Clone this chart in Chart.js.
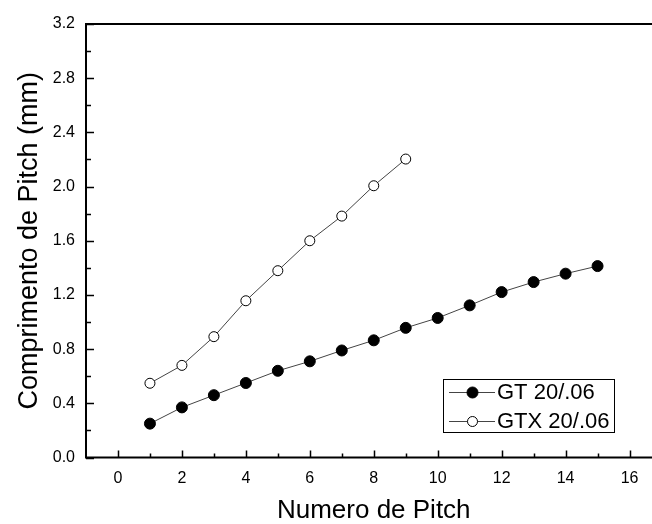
<!DOCTYPE html>
<html><head><meta charset="utf-8">
<script src="https://cdn.jsdelivr.net/npm/chart.js@4/dist/chart.umd.min.js"></script>
<style>html,body{margin:0;padding:0;background:#fff;overflow:hidden}#wrap{width:652px;height:524px;position:relative;overflow:hidden}canvas{display:block}</style>
</head><body><div id="wrap"><canvas id="c" width="668" height="524" style="width:668px;height:524px"></canvas></div>
<script>
// ---- data ----
const pitchGT   = [1, 2, 3, 4, 5, 6, 7, 8, 9, 10, 11, 12, 13, 14, 15];
const valuesGT  = [0.25, 0.37, 0.46, 0.55, 0.64, 0.71, 0.79, 0.865, 0.957, 1.03, 1.123, 1.221, 1.295, 1.357, 1.413];
const pitchGTX  = [1, 2, 3, 4, 5, 6, 7, 8, 9];
const valuesGTX = [0.548, 0.68, 0.892, 1.157, 1.379, 1.6, 1.782, 2.006, 2.203];
const seriesLabels = ['GT 20/.06', 'GTX 20/.06'];
const xAxisTitle = 'Numero de Pitch';
const yAxisTitle = 'Comprimento de Pitch (mm)';
const xRange = [-1, 17];
const yRange = [0, 3.2];
const xTickLabels = [0, 2, 4, 6, 8, 10, 12, 14, 16];
const xMajorStep = 2, xMinorStep = 1;
const yMajorStep = 0.4, yMinorStep = 0.2;

const FONT = "'Liberation Sans', Arial, sans-serif";

const toPoints = (xs, ys) => xs.map((x, i) => ({x: x, y: ys[i]}));

// frame + inward ticks (major / minor) using the scales, and the boxed legend
const framePlugin = {
  id: 'frame',
  afterDraw(chart) {
    const {ctx, chartArea: a, scales} = chart;
    const xs = scales.x, ys = scales.y;
    ctx.save();
    ctx.strokeStyle = '#000';
    ctx.lineWidth = 2;
    ctx.beginPath();
    ctx.moveTo(a.right + 2, a.top); ctx.lineTo(a.left, a.top);
    ctx.lineTo(a.left, a.bottom); ctx.lineTo(a.right + 2, a.bottom);
    ctx.stroke();
    ctx.lineWidth = 1.5;
    ctx.beginPath();
    const eps = 1e-6;
    for (let v = Math.ceil(xs.min / xMinorStep) * xMinorStep; v < xs.max - eps; v += xMinorStep) {
      if (v <= xs.min + eps) continue;
      const px = Math.round(xs.getPixelForValue(v)) + 0.5;
      const major = Math.abs(v / xMajorStep - Math.round(v / xMajorStep)) < eps;
      ctx.moveTo(px, a.bottom); ctx.lineTo(px, a.bottom - (major ? 7 : 4));
    }
    for (let i = 0; ; i++) {
      const v = ys.min + i * yMinorStep;
      if (v > ys.max + eps) break;
      const py = Math.round(ys.getPixelForValue(v)) + 0.5;
      const major = i % Math.round(yMajorStep / yMinorStep) === 0;
      ctx.moveTo(a.left, py); ctx.lineTo(a.left + (major ? 8 : 5), py);
    }
    ctx.stroke();

    // legend
    const lx = 443, ly = 379, lw = 171, lh = 53;
    ctx.lineWidth = 1;
    ctx.strokeStyle = '#000';
    ctx.strokeRect(lx + 0.5, ly + 0.5, lw, lh);
    const rows = [ly + 13, ly + 42];
    chart.data.datasets.forEach((ds, i) => {
      const y = rows[i];
      ctx.strokeStyle = ds.borderColor;
      ctx.lineWidth = 1;
      ctx.beginPath(); ctx.moveTo(lx + 6, y + 0.5); ctx.lineTo(lx + 52, y + 0.5); ctx.stroke();
      ctx.beginPath();
      ctx.arc(lx + 29.5, y + 0.5, ds.pointRadius, 0, Math.PI * 2);
      ctx.fillStyle = ds.pointBackgroundColor; ctx.fill();
      ctx.strokeStyle = ds.pointBorderColor; ctx.lineWidth = ds.pointBorderWidth; ctx.stroke();
      ctx.fillStyle = '#000';
      ctx.font = '22px ' + FONT;
      ctx.textBaseline = 'middle';
      ctx.textAlign = 'left';
      ctx.fillText(ds.label, lx + 54, y + 1);
    });
    ctx.restore();
  }
};

new Chart(document.getElementById('c'), {
  type: 'scatter',
  data: {
    datasets: [
      {
        label: seriesLabels[0],
        data: toPoints(pitchGT, valuesGT),
        showLine: true,
        borderColor: '#444',
        borderWidth: 1,
        pointRadius: 5.5,
        pointBackgroundColor: '#000',
        pointBorderColor: '#000',
        pointBorderWidth: 1
      },
      {
        label: seriesLabels[1],
        data: toPoints(pitchGTX, valuesGTX),
        showLine: true,
        borderColor: '#444',
        borderWidth: 1,
        pointRadius: 5,
        pointBackgroundColor: '#fff',
        pointBorderColor: '#000',
        pointBorderWidth: 1
      }
    ]
  },
  options: {
    responsive: false,
    animation: false,
    devicePixelRatio: 1,
    layout: {padding: {top: 24, right: 0, left: 0, bottom: 0}},
    plugins: {legend: {display: false}, tooltip: {enabled: false}},
    scales: {
      x: {
        type: 'linear',
        min: xRange[0], max: xRange[1],
        grid: {display: false, drawTicks: false},
        border: {display: false},
        afterBuildTicks(s) { s.ticks = xTickLabels.map(v => ({value: v})); },
        ticks: {
          color: '#000', padding: 11,
          font: {family: FONT, size: 16},
          maxRotation: 0, autoSkip: false
        },
        title: {
          display: true, text: xAxisTitle, color: '#000',
          font: {family: FONT, size: 26, lineHeight: 1},
          padding: {top: 0, bottom: 0}
        },
        afterFit(s) { s.height = 66.5; s.paddingLeft = 0; s.paddingRight = 0; }
      },
      y: {
        type: 'linear',
        min: yRange[0], max: yRange[1],
        grid: {display: false, drawTicks: false},
        border: {display: false},
        ticks: {
          stepSize: yMajorStep, includeBounds: false,
          color: '#000', padding: 11,
          font: {family: FONT, size: 16},
          callback: v => Number(v).toFixed(1)
        },
        title: {
          display: true, text: yAxisTitle, color: '#000',
          font: {family: FONT, size: 27, lineHeight: 1},
          padding: {top: 16, bottom: 0}
        },
        afterFit(s) { s.width = 86; s.paddingTop = 0; s.paddingBottom = 0; }
      }
    }
  },
  plugins: [framePlugin]
});
</script>
</body></html>
